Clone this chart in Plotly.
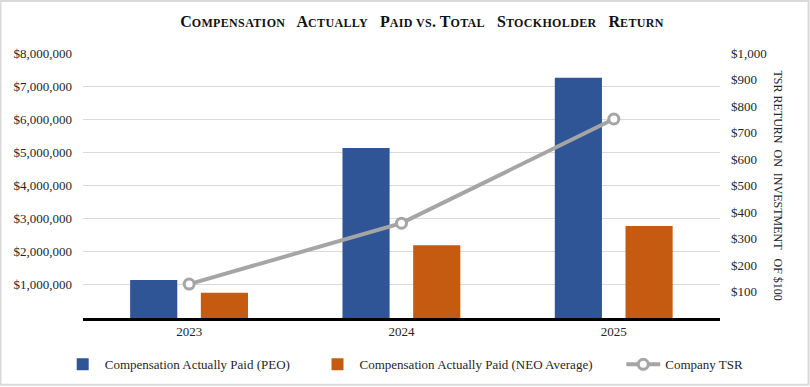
import plotly.graph_objects as go

years = ["2023", "2024", "2025"]
peo_cap = [1150000, 5130000, 7250000]
neo_cap = [760000, 2200000, 2780000]
tsr = [128, 358, 751]

left_ticks = [1000000, 2000000, 3000000, 4000000, 5000000, 6000000, 7000000, 8000000]
left_labels = ["$1,000,000", "$2,000,000", "$3,000,000", "$4,000,000",
               "$5,000,000", "$6,000,000", "$7,000,000", "$8,000,000"]
right_ticks = [100, 200, 300, 400, 500, 600, 700, 800, 900, 1000]
right_labels = ["$100", "$200", "$300", "$400", "$500", "$600", "$700", "$800", "$900", "$1,000"]

xpos = list(range(len(years)))
FONT = "Liberation Serif, Times New Roman, serif"
TXT = "#262626"

fig = go.Figure()
fig.add_trace(go.Bar(
    x=xpos, y=peo_cap, name="Compensation Actually Paid (PEO)",
    marker=dict(color="#2F5597", line=dict(width=0)), width=0.222, offset=-0.278,
    legend="legend",
))
fig.add_trace(go.Bar(
    x=xpos, y=neo_cap, name="Compensation Actually Paid (NEO Average)",
    marker=dict(color="#C55A11", line=dict(width=0)), width=0.222, offset=0.055,
    legend="legend2",
))
fig.add_trace(go.Scatter(
    x=xpos, y=tsr, name="Company TSR", yaxis="y2", mode="lines+markers",
    line=dict(color="#A5A5A5", width=4),
    marker=dict(size=10, color="white", line=dict(color="#A5A5A5", width=3)),
    legend="legend3",
))

leg_common = dict(
    orientation="h", y=-0.175, yanchor="middle", xanchor="left",
    font=dict(family=FONT, size=13, color=TXT), bgcolor="rgba(0,0,0,0)",
    itemwidth=34,
)

SC = "font-size:12px;letter-spacing:0.35px"
title_text = ("<b>C<span style='%s'>OMPENSATION</span>&nbsp;&nbsp; "
              "A<span style='%s'>CTUALLY</span>&nbsp;&nbsp; "
              "P<span style='%s'>AID VS</span>. "
              "T<span style='%s'>OTAL</span>&nbsp;&nbsp; "
              "S<span style='%s'>TOCKHOLDER</span>&nbsp;&nbsp; "
              "R<span style='%s'>ETURN</span></b>") % ((SC,) * 6)

fig.update_layout(
    width=810, height=387,
    margin=dict(l=83, r=90, t=53, b=69, autoexpand=False),
    paper_bgcolor="white", plot_bgcolor="white",
    font=dict(family=FONT, size=13, color=TXT),
    barmode="overlay",
    showlegend=True,
    title=dict(
        text=title_text,
        x=422 / 810, xanchor="center", xref="container",
        y=0.945, yanchor="middle", yref="container",
        font=dict(family=FONT, size=16, color="#111"),
    ),
    xaxis=dict(
        range=[-0.5, 2.5], tickvals=xpos, ticktext=years,
        showgrid=False, zeroline=False, showline=True,
        linecolor="#000", linewidth=2.5, ticks="",
        tickfont=dict(family=FONT, size=13, color=TXT),
    ),
    yaxis=dict(
        range=[0, 8000000], tickvals=left_ticks, ticktext=left_labels,
        showgrid=True, gridcolor="#D9D9D9", gridwidth=1,
        zeroline=False, showline=False, ticks="", ticklabelstandoff=10,
        tickfont=dict(family=FONT, size=13, color=TXT),
    ),
    yaxis2=dict(
        range=[0, 1000], tickvals=right_ticks, ticktext=right_labels,
        overlaying="y", side="right", showgrid=False, zeroline=False,
        showline=False, ticks="", ticklabelstandoff=10,
        tickfont=dict(family=FONT, size=13, color=TXT),
    ),
    legend=dict(x=-0.035, **leg_common),
    legend2=dict(x=0.365, **leg_common),
    legend3=dict(x=0.845, **leg_common),
    annotations=[dict(
        text="TSR RETURN  ON  INVESTMENT   OF $100".replace("  ", "&nbsp; "),
        textangle=90, xref="paper", yref="paper",
        x=1.0 + 58 / 637, y=0.5, xanchor="center", yanchor="middle",
        showarrow=False, font=dict(family=FONT, size=12, color=TXT),
    )],
    shapes=[dict(
        type="rect", xref="paper", yref="paper",
        x0=-0.1295, x1=1.139, y0=-0.252, y1=1.196,
        line=dict(color="#D9D9D9", width=2), layer="below",
    )],
)

fig.write_html("out.html", config={"displayModeBar": False},
               post_script="document.body.style.margin='0';")
